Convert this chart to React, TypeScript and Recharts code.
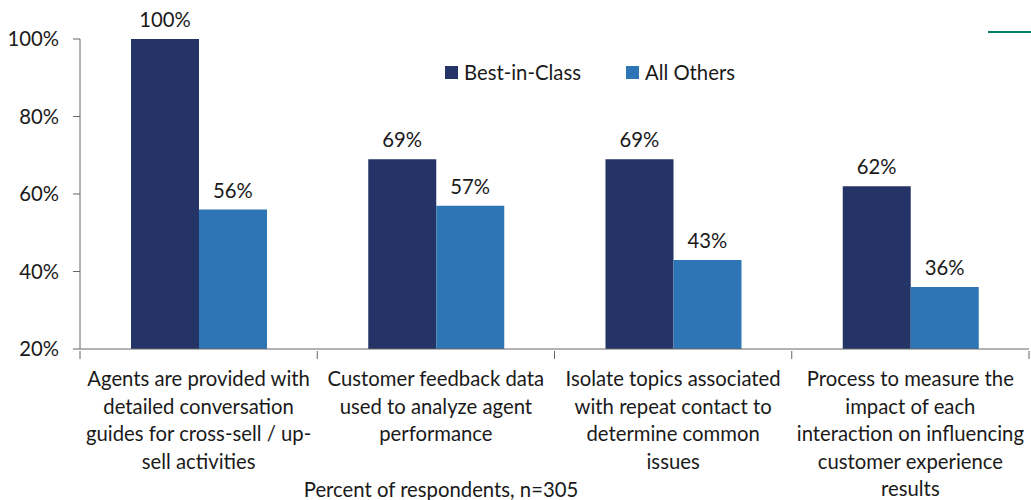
import React from 'react';
import { BarChart, Bar, XAxis, YAxis, Legend, LabelList } from 'recharts';

const categories = [
  'Agents are provided with\ndetailed conversation\nguides for cross-sell / up-\nsell activities',
  'Customer feedback data\nused to analyze agent\nperformance',
  'Isolate topics associated\nwith repeat contact to\ndetermine common\nissues',
  'Process to measure the\nimpact of each\ninteraction on influencing\ncustomer experience\nresults',
];
const bestInClass = [100, 69, 69, 62];
const allOthers = [56, 57, 43, 36];
const yTicks = [20, 40, 60, 80, 100];
const seriesNames = ['Best-in-Class', 'All Others'];
const xLabel = 'Percent of respondents, n=305';

const data = categories.map((c, i) => ({ name: c, best: bestInClass[i], others: allOthers[i] }));

const FONT = 'Lato, "Noto Sans", sans-serif';
const FS = 20.3;
const TEXT = '#1a1a1a';
const AXIS = '#666666';
const DARK = '#243466';
const BLUE = '#2E75B6';

const CategoryTick = (props: any) => {
  const { x, y, payload, index, visibleTicksCount } = props;
  const lines = String(payload.value).split('\n');
  const half = payload.offset || 0;
  const isLast = index === visibleTicksCount - 1;
  return (
    <g>
      <line x1={x - half} x2={x - half} y1={y - 8} y2={y} stroke={AXIS} />
      {isLast && <line x1={x + half} x2={x + half} y1={y - 8} y2={y} stroke={AXIS} />}
      <text x={x} y={y + 27} textAnchor="middle" fill={TEXT} fontSize={FS} fontFamily={FONT}>
        {lines.map((l, i) => (
          <tspan key={i} x={x} dy={i === 0 ? 0 : 27.5}>{l}</tspan>
        ))}
      </text>
    </g>
  );
};

const LegendContent = () => (
  <div style={{ display: 'flex', alignItems: 'center', fontFamily: FONT, fontSize: FS, color: TEXT }}>
    {seriesNames.map((n, i) => (
      <div key={n} style={{ display: 'flex', alignItems: 'center', marginRight: i === 0 ? 45 : 0 }}>
        <div style={{ width: 13, height: 13, background: i === 0 ? DARK : BLUE, marginRight: 6 }} />
        <span>{n}</span>
      </div>
    ))}
  </div>
);

export default function App() {
  return (
    <div style={{ position: 'absolute', left: 0, top: 0, width: 1031, height: 500, background: '#fff', fontFamily: FONT }}>
      <BarChart width={1031} height={500} data={data} margin={{ top: 39, right: 2, left: 0, bottom: 0 }} barGap={0}>
        <XAxis
          dataKey="name"
          interval={0}
          height={151}
          tickLine={false}
          tickSize={8}
          axisLine={{ stroke: AXIS }}
          tick={<CategoryTick />}
        />
        <YAxis
          width={80}
          domain={[20, 100]}
          ticks={yTicks}
          allowDataOverflow
          tickFormatter={(v: number) => `${v}%`}
          tickSize={7}
          tickMargin={14}
          tick={{ fill: TEXT, fontSize: FS, fontFamily: FONT }}
          axisLine={{ stroke: AXIS }}
          tickLine={{ stroke: AXIS }}
        />
        <Legend
          content={<LegendContent />}
          verticalAlign="middle"
          align="center"
          wrapperStyle={{ position: 'absolute', top: 60, left: 445, width: 'auto', height: 'auto' }}
        />
        <Bar dataKey="best" name={seriesNames[0]} fill={DARK} barSize={68} isAnimationActive={false}>
          <LabelList dataKey="best" position="top" offset={12} formatter={(v: any) => `${v}%`} fill={TEXT} fontSize={FS} fontFamily={FONT} />
        </Bar>
        <Bar dataKey="others" name={seriesNames[1]} fill={BLUE} barSize={68} isAnimationActive={false}>
          <LabelList dataKey="others" position="top" offset={12} formatter={(v: any) => `${v}%`} fill={TEXT} fontSize={FS} fontFamily={FONT} />
        </Bar>
      </BarChart>
      <div style={{ position: 'absolute', left: 988, top: 31, width: 43, height: 2, background: '#00806A' }} />
      <div style={{ position: 'absolute', left: 291, top: 477, width: 300, textAlign: 'center', fontSize: FS, color: TEXT, whiteSpace: 'nowrap' }}>
        {xLabel}
      </div>
    </div>
  );
}
